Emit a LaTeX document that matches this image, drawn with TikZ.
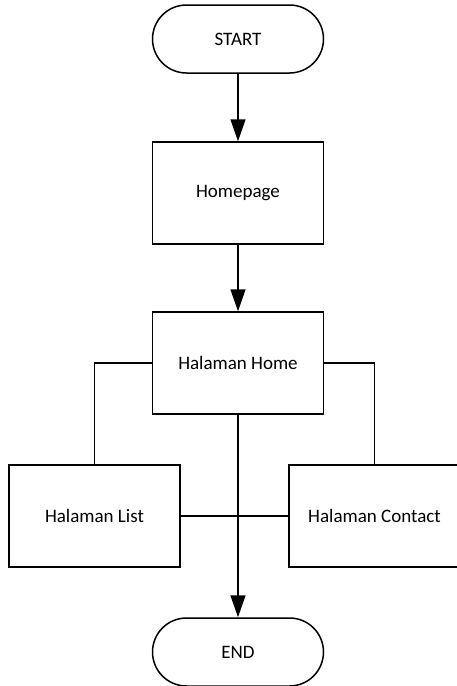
\documentclass[tikz,border=0pt]{standalone}
\usepackage{fontspec}
\setmainfont{Carlito}
\usetikzlibrary{arrows.meta}
\begin{document}
\begin{tikzpicture}[x=1pt,y=-1pt,
  box/.style={draw,line width=1.5pt,minimum width=171pt,minimum height=102pt,inner sep=0pt,font=\fontsize{19}{22}\selectfont},
  term/.style={draw,line width=1.5pt,minimum width=171pt,minimum height=68pt,rounded corners=34pt,inner sep=0pt,font=\fontsize{19}{22}\selectfont},
  conn/.style={line width=1.5pt},
  arr/.style={line width=1.5pt,-{Triangle[length=22pt,width=15pt]}}]
\useasboundingbox (0,0) rectangle (457,686);
\node[term] (start) at (238,39) {START};
\node[box] (homepage) at (238,193) {Homepage};
\node[box] (home) at (238,363) {Halaman Home};
\node[box] (list) at (94.5,516) {Halaman List};
\node[box] (contact) at (374.5,516) {Halaman Contact};
\node[term] (end) at (238,652) {END};
\draw[arr] (start) -- (homepage);
\draw[arr] (homepage) -- (home);
\draw[conn] (home.west) -| (list.north);
\draw[conn] (home.east) -| (contact.north);
\draw[conn] (list.east) -- (contact.west);
\draw[arr] (home) -- (end);
\end{tikzpicture}
\end{document}
